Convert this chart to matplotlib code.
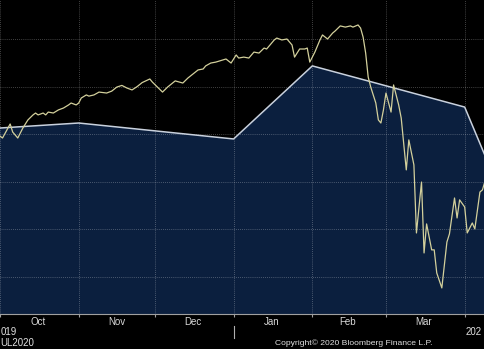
import matplotlib
matplotlib.use('Agg')
import matplotlib.pyplot as plt
import matplotlib.dates as mdates
from matplotlib import font_manager
import pandas as pd

# ---- data ----
index_dates = [
    '2019-10-01', '2019-10-02', '2019-10-05', '2019-10-06', '2019-10-08', '2019-10-10',
    '2019-10-12', '2019-10-14', '2019-10-15', '2019-10-16', '2019-10-18', '2019-10-19',
    '2019-10-20', '2019-10-22', '2019-10-24', '2019-10-26', '2019-10-28', '2019-10-29',
    '2019-10-31', '2019-11-01', '2019-11-02', '2019-11-04', '2019-11-05', '2019-11-07',
    '2019-11-09', '2019-11-12', '2019-11-14', '2019-11-16', '2019-11-18', '2019-11-20',
    '2019-11-22', '2019-11-24', '2019-11-26', '2019-11-29', '2019-11-30', '2019-12-02',
    '2019-12-04', '2019-12-06', '2019-12-09', '2019-12-12', '2019-12-14', '2019-12-16',
    '2019-12-18', '2019-12-20', '2019-12-21', '2019-12-23', '2019-12-25', '2019-12-29',
    '2019-12-31', '2020-01-02', '2020-01-03', '2020-01-05', '2020-01-07', '2020-01-09',
    '2020-01-11', '2020-01-13', '2020-01-14', '2020-01-17', '2020-01-18', '2020-01-20',
    '2020-01-22', '2020-01-24', '2020-01-25', '2020-01-27', '2020-01-29', '2020-01-30',
    '2020-01-31', '2020-02-02', '2020-02-04', '2020-02-05', '2020-02-07', '2020-02-09',
    '2020-02-10', '2020-02-12', '2020-02-14', '2020-02-16', '2020-02-17', '2020-02-19',
    '2020-02-20', '2020-02-21', '2020-02-22', '2020-02-23', '2020-02-24', '2020-02-26',
    '2020-02-27', '2020-02-28', '2020-02-29', '2020-03-01', '2020-03-03', '2020-03-04',
    '2020-03-06', '2020-03-07', '2020-03-09', '2020-03-10', '2020-03-12', '2020-03-13',
    '2020-03-15', '2020-03-16', '2020-03-17', '2020-03-19', '2020-03-20', '2020-03-21',
    '2020-03-23', '2020-03-25', '2020-03-26', '2020-03-28', '2020-03-29', '2020-03-30',
    '2020-04-01', '2020-04-02', '2020-04-04', '2020-04-05', '2020-04-07', '2020-04-08',
    '2020-04-09',
]
index_values = [
    2892, 2884, 2943, 2909, 2884, 2926,
    2960, 2981, 2989, 2981, 2989, 2981,
    2993, 2989, 3002, 3010, 3023, 3031,
    3023, 3031, 3052, 3065, 3060, 3065,
    3077, 3073, 3081, 3098, 3105, 3094,
    3086, 3100, 3117, 3132, 3119, 3098,
    3077, 3098, 3124, 3115, 3136, 3153,
    3170, 3174, 3187, 3199, 3203, 3216,
    3199, 3233, 3220, 3224, 3220, 3245,
    3241, 3262, 3258, 3296, 3304, 3296,
    3300, 3275, 3224, 3258, 3258, 3262,
    3203, 3245, 3296, 3317, 3300, 3325,
    3334, 3355, 3350, 3355, 3350, 3359,
    3346, 3308, 3241, 3140, 3098, 3031,
    2960, 2947, 3002, 3073, 2993, 3107,
    3023, 2968, 2750, 2876, 2771, 2485,
    2699, 2401, 2523, 2414, 2414, 2317,
    2254, 2447, 2481, 2632, 2548, 2624,
    2594, 2485, 2527, 2502, 2657, 2666,
    2703,
]

est_dates = ['2019-10-01', '2019-11-01', '2020-01-01', '2020-02-01', '2020-04-01', '2020-05-01']
est_values = [2926, 2947, 2880, 3187, 3014, 2250]

month_labels = ['Oct', 'Nov', 'Dec', 'Jan', 'Feb', 'Mar']
month_label_dates = ['2019-10-16', '2019-11-16', '2019-12-16', '2020-01-16', '2020-02-15', '2020-03-16']
grid_levels = [2300, 2500, 2700, 2900, 3100, 3300]

# font choice: a narrow sans if available
names = {f.name for f in font_manager.fontManager.ttflist}
FAM = ['Liberation Sans Narrow'] if 'Liberation Sans Narrow' in names else ['Liberation Sans']
FAM = FAM + ['DejaVu Sans']

# ---- figure ----
W, H = 485, 349
fig = plt.figure(figsize=(W / 100, H / 100), dpi=100, facecolor='black')
ax = fig.add_axes([0, 35 / H, 1, 314 / H])
ax.set_facecolor('black')

ix = pd.to_datetime(index_dates)
ex = pd.to_datetime(est_dates)

ax.fill_between(ex, est_values, 0, color='#0b1f3e', lw=0, zorder=1)
ax.plot(ex, est_values, color='#c9d1dd', lw=1.1, zorder=3)
ax.plot(ix, index_values, color='#d3d09c', lw=0.9, zorder=4)

x0 = pd.Timestamp('2019-10-01')
ax.set_xlim(x0, x0 + pd.Timedelta(days=191))
ax.set_ylim(2144.5, 3463.9)

ax.set_yticks(grid_levels)
ax.tick_params(axis='y', length=0, labelleft=False)

ax.xaxis.set_major_locator(mdates.MonthLocator())
ax.xaxis.set_major_formatter(plt.NullFormatter())
ax.set_xticks(pd.to_datetime(month_label_dates), minor=True)
ax.set_xticklabels(month_labels, minor=True, family=FAM)
ax.tick_params(axis='x', which='major', length=2, color='#a0a0a0', width=0.8)
ax.tick_params(axis='x', which='minor', length=0, pad=2, labelsize=7, labelcolor='#d8d8d8')

ax.set_axisbelow(False)
ax.grid(True, which='major', axis='both', color='white', alpha=0.35,
        linestyle=(0, (1, 1.5)), linewidth=0.6)

for s in ['top', 'left', 'right']:
    ax.spines[s].set_visible(False)
ax.spines['bottom'].set_color('#a0a0a0')
ax.spines['bottom'].set_linewidth(0.8)

# year separator
jan1 = pd.Timestamp('2020-01-01')
ax.plot([jan1, jan1], [-0.038, -0.076], transform=ax.get_xaxis_transform(),
        clip_on=False, color='#b0b0b0', lw=0.8)

txt = dict(color='#e0e0e0', fontsize=7, va='center', family=FAM)
fig.text(0.5 / W, 1 - 332 / H, '019', ha='left', **txt)
fig.text(466 / W, 1 - 332 / H, '202', ha='left', **txt)
fig.text(0.5 / W, 1 - 343 / H, 'UL2020', ha='left', **txt)
fig.text(275 / W, 1 - 343 / H, 'Copyright\u00a9 2020 Bloomberg Finance L.P.', ha='left',
         **{**txt, 'fontsize': 6.1})

fig.savefig('out.png', dpi=100, facecolor='black')
